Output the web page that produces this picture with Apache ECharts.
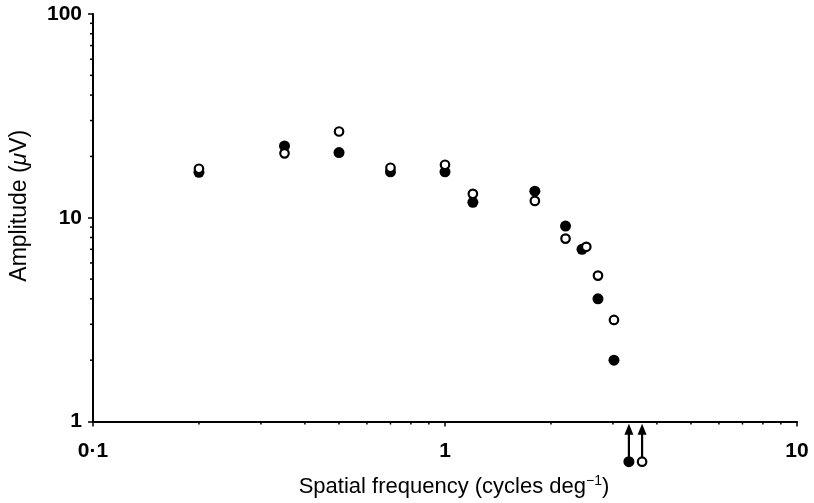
<!DOCTYPE html>
<html>
<head>
<meta charset="utf-8">
<script src="https://cdn.jsdelivr.net/npm/echarts@6/dist/echarts.min.js"></script>
<style>
  html, body { margin: 0; padding: 0; background: #fff; }
  #chart { width: 814px; height: 503px; }
</style>
</head>
<body>
<div id="chart"></div>
<script>
// ---- data ----
const freqFilled = [0.2, 0.35, 0.5, 0.7, 1.0, 1.2, 1.8, 2.2, 2.45, 2.72, 3.02];
const ampFilled  = [16.7, 22.5, 20.9, 16.8, 16.8, 11.9, 13.5, 9.1, 7.0, 4.0, 2.0];
const freqOpen   = [0.2, 0.35, 0.5, 0.7, 1.0, 1.2, 1.8, 2.2, 2.52, 2.72, 3.02];
const ampOpen    = [17.4, 20.7, 26.5, 17.6, 18.2, 13.1, 12.1, 7.9, 7.2, 5.2, 3.15];
// extrapolated (below noise) acuity points, shown below the axis with arrows
const arrowFreqFilled = [3.33];
const arrowFreqOpen   = [3.63];

const xTickValues = [0.1, 1, 10];
const xTickLabels = ['0·1', '1', '10'];
const yTickValues = [1, 10, 100];
const yTickLabels = ['1', '10', '100'];
const xMinorTicks = [0.2, 0.3, 0.4, 0.5, 0.6, 0.7, 0.8, 0.9, 2, 3, 4, 5, 6, 7, 8, 9];
const yMinorTicks = [2, 3, 4, 5, 6, 7, 8, 9, 20, 30, 40, 50, 60, 70, 80, 90];

// ---- styling constants ----
const FONT = '"Liberation Sans", Arial, Helvetica, sans-serif';
const BELOW = 0.635;     // y value (below axis min) of the arrow circles
const ARROW_TIP = 0.915; // y value of arrowhead centre

function labelFor(values, labels) {
  return function (v) {
    const i = values.findIndex(t => Math.abs(t - v) / t < 1e-6);
    return i >= 0 ? labels[i] : '';
  };
}

const zip = (xs, ys) => xs.map((x, i) => [x, ys[i]]);

const chart = echarts.init(document.getElementById('chart'), null, { renderer: 'canvas' });

function arrowSeries(freqs) {
  return freqs.map(f => ({
    type: 'line',
    clip: false,
    silent: true,
    animation: false,
    lineStyle: { color: '#000', width: 2.2, opacity: 1 },
    showSymbol: true,
    data: [
      { value: [f, BELOW], symbol: 'none' },
      { value: [f, ARROW_TIP], symbol: 'triangle', symbolSize: [9, 11],
        itemStyle: { color: '#000', opacity: 1 } }
    ],
    z: 3
  }));
}

const filledStyle = { color: '#000', opacity: 1 };
const openStyle = { color: '#fff', borderColor: '#000', borderWidth: 2.2, opacity: 1 };

const option = {
  animation: false,
  backgroundColor: '#fff',
  grid: { left: 93, right: 17, top: 14, bottom: 78, containLabel: false },
  xAxis: {
    type: 'log',
    logBase: 10,
    min: 0.1,
    max: 10,
    name: '{a|Spatial frequency (cycles deg}{s|−1}{a|)}',
    nameLocation: 'middle',
    nameGap: 53,
    nameTextStyle: {
      padding: [0, 0, 0, 18],
      rich: {
        a: { fontFamily: FONT, fontSize: 22, color: '#000', lineHeight: 25 },
        s: { fontFamily: FONT, fontSize: 14, color: '#000', verticalAlign: 'top', lineHeight: 14 }
      }
    },
    axisLine: { show: true, onZero: false, lineStyle: { color: '#000', width: 2 } },
    axisTick: { show: true, inside: false, length: 5, lineStyle: { color: '#000', width: 1.5 } },
    minorTick: { show: false },
    splitLine: { show: false },
    axisLabel: {
      margin: 19,
      fontFamily: FONT, fontSize: 21, fontWeight: 'bold', color: '#000',
      formatter: labelFor(xTickValues, xTickLabels)
    }
  },
  yAxis: {
    type: 'log',
    logBase: 10,
    min: 1,
    max: 100,
    name: '{a|Amplitude (}{i|μ}{a|V)}',
    nameLocation: 'middle',
    nameGap: 62,
    nameTextStyle: {
      padding: [0, 0, 0, 24],
      rich: {
        a: { fontFamily: FONT, fontSize: 23, color: '#000' },
        i: { fontFamily: FONT, fontSize: 23, color: '#000', fontStyle: 'italic' }
      }
    },
    axisLine: { show: true, onZero: false, lineStyle: { color: '#000', width: 2 } },
    axisTick: { show: true, inside: false, length: 5, lineStyle: { color: '#000', width: 1.5 } },
    minorTick: { show: false },
    splitLine: { show: false },
    axisLabel: {
      margin: 11,
      fontFamily: FONT, fontSize: 21, fontWeight: 'bold', color: '#000',
      formatter: labelFor(yTickValues, yTickLabels)
    }
  },
  series: [
    {
      name: 'filled',
      type: 'scatter',
      clip: false,
      symbol: 'circle',
      symbolSize: 11,
      itemStyle: filledStyle,
      data: zip(freqFilled, ampFilled),
      z: 4
    },
    {
      name: 'open',
      type: 'scatter',
      clip: false,
      symbol: 'circle',
      symbolSize: 8.5,
      itemStyle: openStyle,
      data: zip(freqOpen, ampOpen),
      z: 5
    },
    ...arrowSeries(arrowFreqFilled),
    ...arrowSeries(arrowFreqOpen),
    {
      name: 'filled-below',
      type: 'scatter',
      clip: false,
      symbol: 'circle',
      symbolSize: 11,
      itemStyle: filledStyle,
      data: arrowFreqFilled.map(f => [f, BELOW]),
      z: 6
    },
    {
      name: 'open-below',
      type: 'scatter',
      clip: false,
      symbol: 'circle',
      symbolSize: 8.5,
      itemStyle: openStyle,
      data: arrowFreqOpen.map(f => [f, BELOW]),
      z: 6
    }
  ]
};

chart.setOption(option);

// minor log ticks (2..9 per decade), positioned through the chart's own scales
const minorLen = 3;
const graphics = [];
const origin = chart.convertToPixel({ gridIndex: 0 }, [0.1, 1]);
xMinorTicks.forEach(v => {
  const p = chart.convertToPixel({ gridIndex: 0 }, [v, 1]);
  graphics.push({
    type: 'line', silent: true,
    shape: { x1: p[0], y1: origin[1], x2: p[0], y2: origin[1] + minorLen },
    style: { stroke: '#000', lineWidth: 1.5 }
  });
});
yMinorTicks.forEach(v => {
  const p = chart.convertToPixel({ gridIndex: 0 }, [0.1, v]);
  graphics.push({
    type: 'line', silent: true,
    shape: { x1: origin[0], y1: p[1], x2: origin[0] - minorLen, y2: p[1] },
    style: { stroke: '#000', lineWidth: 1.5 }
  });
});
chart.setOption({ graphic: graphics });
</script>
</body>
</html>
